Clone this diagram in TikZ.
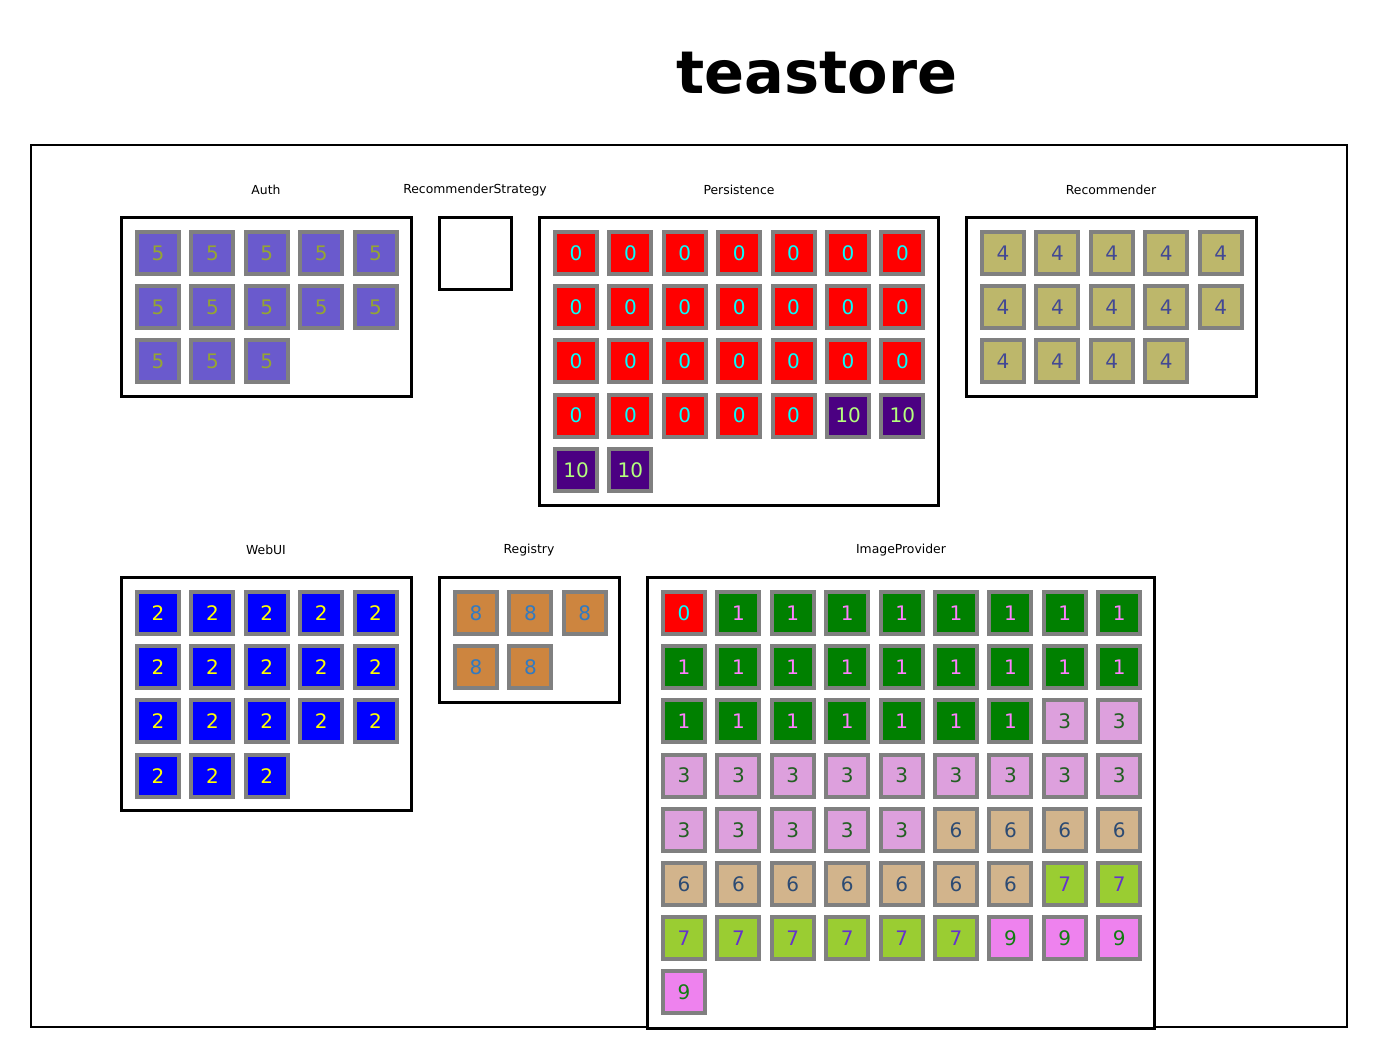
\documentclass[tikz,border=0pt]{standalone}
\usepackage{fontspec}
\setmainfont{DejaVu Sans}
\definecolor{cellgray}{HTML}{808080}
\definecolor{f0}{RGB}{255,0,0}\definecolor{t0}{RGB}{0,255,255}
\definecolor{f1}{RGB}{0,128,0}\definecolor{t1}{RGB}{255,127,255}
\definecolor{f2}{RGB}{0,0,255}\definecolor{t2}{RGB}{255,255,0}
\definecolor{f3}{RGB}{221,160,221}\definecolor{t3}{RGB}{34,95,34}
\definecolor{f4}{RGB}{189,183,107}\definecolor{t4}{RGB}{66,72,148}
\definecolor{f5}{RGB}{106,90,205}\definecolor{t5}{RGB}{149,165,50}
\definecolor{f6}{RGB}{210,180,140}\definecolor{t6}{RGB}{45,75,115}
\definecolor{f7}{RGB}{154,205,50}\definecolor{t7}{RGB}{101,50,205}
\definecolor{f8}{RGB}{205,133,63}\definecolor{t8}{RGB}{50,122,192}
\definecolor{f9}{RGB}{238,130,238}\definecolor{t9}{RGB}{17,125,17}
\definecolor{f10}{RGB}{75,0,130}\definecolor{t10}{RGB}{180,255,125}
\tikzset{
  cellbox/.style={draw=cellgray, line width=4pt, minimum size=42pt, inner sep=0pt,
    font=\fontsize{20}{20}\selectfont},
  clusterbox/.style={draw=black, line width=3pt, inner sep=0pt, fill=white},
  clusterlabel/.style={font=\fontsize{12.4}{13}\selectfont, inner sep=0pt},
  frame/.style={draw=black, line width=2pt, inner sep=0pt},
}
\newcommand\cellgrid[5]{%
  \foreach \t [count=\i from 0] in {#5} {
    \pgfmathtruncatemacro\col{mod(\i,#4)}
    \pgfmathtruncatemacro\row{div(\i,#4)}
    \node[cellbox, fill=f\t, text=t\t] (#1-\i) at ({#2+\col*54.4},{#3+\row*54.2}) {\t};
  }}
\begin{document}
\begin{tikzpicture}[x=1pt,y=-1pt]
\useasboundingbox (0,0) rectangle (1378,1059);
\node[font=\fontsize{59}{60}\selectfont\bfseries, inner sep=0pt] (title) at (817,73) {teastore};
\node[frame, minimum width=1316pt, minimum height=882pt] (outer) at (689,586) {};
% clusters
\node[clusterbox, minimum width=290pt, minimum height=179pt] (auth) at (266.5,307) {};
\node[clusterlabel] (authl) at (266,190) {Auth};
\node[clusterbox, minimum width=72pt, minimum height=72pt] (recstrat) at (475.5,253.5) {};
\node[clusterlabel] (recstratl) at (475,190) {RecommenderStrategy};
\node[clusterbox, minimum width=399pt, minimum height=288pt] (pers) at (739,361.5) {};
\node[clusterlabel] (persl) at (739,190) {Persistence};
\node[clusterbox, minimum width=290pt, minimum height=179pt] (rec) at (1111.5,307) {};
\node[clusterlabel] (recl) at (1111,190) {Recommender};
\node[clusterbox, minimum width=290pt, minimum height=233pt] (webui) at (266.5,694) {};
\node[clusterlabel] (webuil) at (266,550) {WebUI};
\node[clusterbox, minimum width=180pt, minimum height=125pt] (reg) at (529.5,640) {};
\node[clusterlabel] (regl) at (529,550) {Registry};
\node[clusterbox, minimum width=507pt, minimum height=451pt] (img) at (901,803) {};
\node[clusterlabel] (imgl) at (901,550) {ImageProvider};
% cells
\cellgrid{a}{158}{253}{5}{5,5,5,5,5,5,5,5,5,5,5,5,5}
\cellgrid{p}{576}{253}{7}{0,0,0,0,0,0,0,0,0,0,0,0,0,0,0,0,0,0,0,0,0,0,0,0,0,0,10,10,10,10}
\cellgrid{r}{1003}{253}{5}{4,4,4,4,4,4,4,4,4,4,4,4,4,4}
\cellgrid{w}{158}{613}{5}{2,2,2,2,2,2,2,2,2,2,2,2,2,2,2,2,2,2}
\cellgrid{g}{476}{613}{3}{8,8,8,8,8}
\cellgrid{i}{684}{613}{9}{0,1,1,1,1,1,1,1,1,1,1,1,1,1,1,1,1,1,1,1,1,1,1,1,1,3,3,3,3,3,3,3,3,3,3,3,3,3,3,3,3,6,6,6,6,6,6,6,6,6,6,6,7,7,7,7,7,7,7,7,9,9,9,9}
\end{tikzpicture}
\end{document}
